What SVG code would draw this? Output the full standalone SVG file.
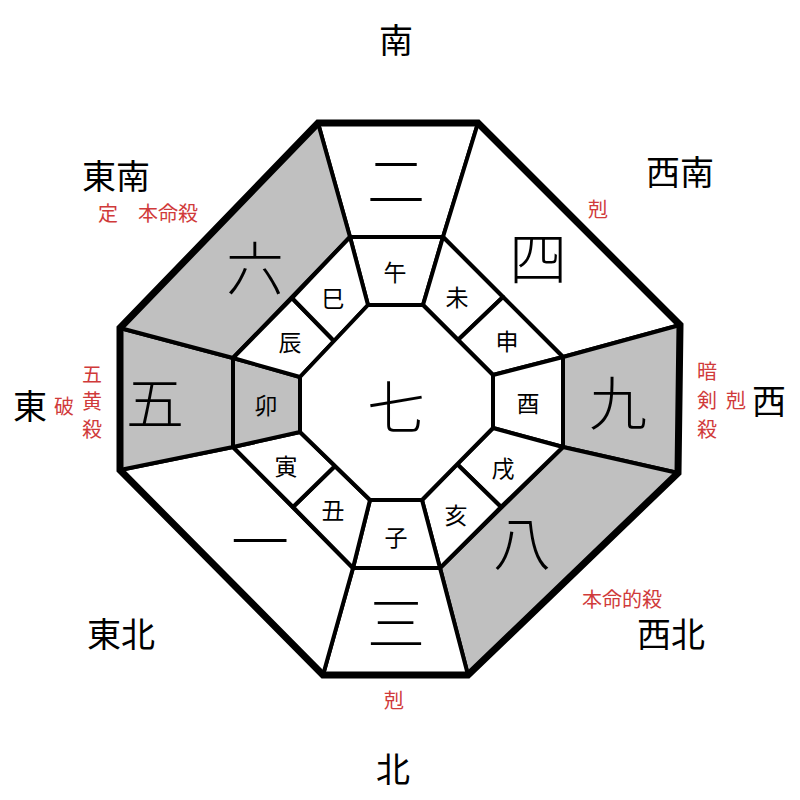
<svg xmlns="http://www.w3.org/2000/svg" width="800" height="800" viewBox="0 0 800 800">
<style>
text{font-family:"Noto Sans CJK JP","Noto Sans CJK SC",sans-serif;text-anchor:middle;dominant-baseline:central}
.dir{font-size:34px;fill:#000}
.red{font-size:20px;fill:#d03a3a}
.num{font-size:58px;fill:#000;font-weight:300}
.br{font-size:23px;fill:#000}
.cell{stroke:#000;stroke-width:4;stroke-linejoin:round}
.w{fill:#fff}
.g{fill:#c0c0c0}
</style>
<rect width="800" height="800" fill="#fff"/>
<g id="sector-S"><polygon class="cell w" points="318,123 478,123 443,237 350,237"/><text class="num" x="396" y="178">二</text></g>
<g id="sector-SW"><polygon class="cell w" points="478,123 680,325 563,357 443,237"/><text class="num" x="538" y="255">四</text></g>
<g id="sector-W"><polygon class="cell g" points="680,325 678,473 563,447 563,357"/><text class="num" x="618" y="400">九</text></g>
<g id="sector-NW"><polygon class="cell g" points="678,473 468,675 440,568 563,447"/><text class="num" x="522" y="540">八</text></g>
<g id="sector-N"><polygon class="cell w" points="468,675 323,675 353,568 440,568"/><text class="num" x="396" y="620">三</text></g>
<g id="sector-NE"><polygon class="cell w" points="323,675 120,470 233,447 353,568"/><text class="num" x="260" y="538">一</text></g>
<g id="sector-E"><polygon class="cell g" points="120,470 120,328 233,358 233,447"/><text class="num" x="155" y="400">五</text></g>
<g id="sector-SE"><polygon class="cell g" points="120,328 318,123 350,237 233,358"/><text class="num" x="255" y="265">六</text></g>

<g id="branch-wu"><polygon class="cell w" points="350,237 443,237 423,305 368,305"/><text class="br" x="395" y="271">午</text></g>
<g id="branch-wei"><polygon class="cell w" points="443,237 503,297 458,340 423,305"/><text class="br" x="457" y="296">未</text></g>
<g id="branch-shen"><polygon class="cell w" points="503,297 563,357 493,375 458,340"/><text class="br" x="507" y="340">申</text></g>
<g id="branch-you"><polygon class="cell w" points="563,357 563,447 493,428 493,375"/><text class="br" x="528" y="402">酉</text></g>
<g id="branch-xu"><polygon class="cell w" points="563,447 501,507 457,464 493,428"/><text class="br" x="503" y="467">戌</text></g>
<g id="branch-hai"><polygon class="cell w" points="501,507 440,568 422,500 457,464"/><text class="br" x="456" y="514">亥</text></g>
<g id="branch-zi"><polygon class="cell w" points="440,568 353,568 370,500 422,500"/><text class="br" x="396" y="536">子</text></g>
<g id="branch-chou"><polygon class="cell w" points="353,568 293,507 335,466 370,500"/><text class="br" x="333" y="509">丑</text></g>
<g id="branch-yin"><polygon class="cell w" points="293,507 233,447 300,432 335,466"/><text class="br" x="286" y="465">寅</text></g>
<g id="branch-mao"><polygon class="cell g" points="233,447 233,358 300,377 300,432"/><text class="br" x="266" y="404">卯</text></g>
<g id="branch-chen"><polygon class="cell w" points="233,358 292,298 334,341 300,377"/><text class="br" x="290" y="341">辰</text></g>
<g id="branch-si"><polygon class="cell w" points="292,298 350,237 368,305 334,341"/><text class="br" x="333" y="297">巳</text></g>

<g id="center"><polygon class="cell w" points="368,305 423,305 493,375 493,428 422,500 370,500 300,432 300,377"/><text class="num" x="396" y="404">七</text></g>

<g id="connectors"><polygon points="318,123 478,123 680,325 678,473 468,675 323,675 120,470 120,328" fill="none" stroke="#000" stroke-width="7" stroke-linejoin="miter"/></g>

<g id="labels">
<text class="dir" x="396" y="38">南</text>
<text class="dir" x="116" y="174">東南</text>
<text class="dir" x="680" y="170">西南</text>
<text class="dir" x="30" y="404">東</text>
<text class="dir" x="769" y="399">西</text>
<text class="dir" x="121" y="632">東北</text>
<text class="dir" x="671" y="632">西北</text>
<text class="dir" x="393" y="767">北</text>
<text class="red" x="108" y="212">定</text>
<text class="red" x="168" y="212">本命殺</text>
<text class="red" x="598" y="208">剋</text>
<text class="red" x="92" y="373">五</text>
<text class="red" x="92" y="400">黄</text>
<text class="red" x="92" y="428">殺</text>
<text class="red" x="64" y="405">破</text>
<text class="red" x="707" y="370">暗</text>
<text class="red" x="707" y="399">剣</text>
<text class="red" x="707" y="428">殺</text>
<text class="red" x="736" y="399">剋</text>
<text class="red" x="622" y="598">本命的殺</text>
<text class="red" x="394" y="699">剋</text>
</g>
</svg>
